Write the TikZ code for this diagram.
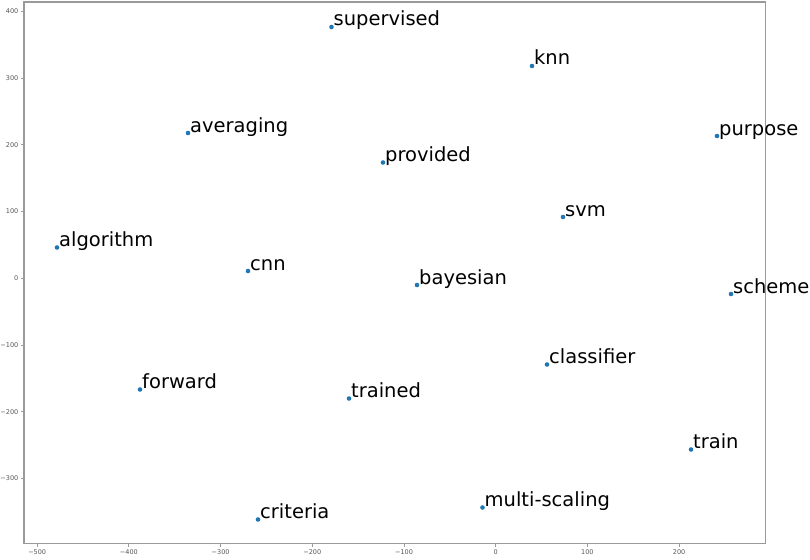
\documentclass[tikz,border=0pt]{standalone}
\usepackage{fontspec}
\setmainfont{DejaVu Sans}
\definecolor{mplblue}{HTML}{1F77B4}
\definecolor{spinegray}{HTML}{9A9A9A}
\definecolor{ticktext}{HTML}{555555}
\tikzset{
  dot/.style={circle, fill=mplblue, draw=none, minimum size=4.6pt, inner sep=0pt},
  wordlbl/.style={anchor=base west, inner sep=0pt, text=black, font=\fontsize{19.5}{20}\selectfont},
  ticklbl/.style={inner sep=0pt, text=ticktext, font=\fontsize{6.5}{7}\selectfont},
  spine/.style={draw=spinegray, line width=1.3pt},
  tickmark/.style={draw=spinegray, line width=0.8pt}
}
\begin{document}
\begin{tikzpicture}[x=1pt, y=-1pt]
\useasboundingbox (0,0) rectangle (810,559);
\fill[white] (0,0) rectangle (810,559);
% axes frame
\coordinate (bl) at (24,543.5);
\coordinate (tr) at (765.5,2);
\draw[spine] (bl) rectangle (tr);
% x ticks
\foreach \v/\lab in {-500/{−500},-400/{−400},-300/{−300},-200/{−200},-100/{−100},0/{0},100/{100},200/{200}}{
  \pgfmathsetmacro{\px}{495.7+0.917*\v}
  \coordinate (xt\v) at (\px,543.5);
  \coordinate (xe\v) at (\px,547);
  \draw[tickmark] (xt\v) -- (xe\v);
  \node[ticklbl, anchor=north] (xl\v) at (\px,549) {\lab};
}
% y ticks
\foreach \v/\lab in {400/{400},300/{300},200/{200},100/{100},0/{0},-100/{−100},-200/{−200},-300/{−300}}{
  \pgfmathsetmacro{\py}{278.3-0.667*\v}
  \coordinate (yt\v) at (24,\py);
  \coordinate (ye\v) at (20.5,\py);
  \draw[tickmark] (yt\v) -- (ye\v);
  \node[ticklbl, anchor=east] (yl\v) at (18.5,\py) {\lab};
}
% points and labels
\foreach \w/\x/\y in {supervised/331.5/27, knn/532/66, averaging/188/133, purpose/717/136,
  provided/383/162.5, svm/563/217, algorithm/57/247.5, cnn/248/271, bayesian/417/285,
  scheme/731/294, classifier/547/364.5, forward/140/389.5, trained/349/398.5,
  train/691/449.5, criteria/258/519.5, multi-scaling/482.5/507.5}{
  \node[dot] (p-\w) at (\x,\y) {};
  \node[wordlbl] (l-\w) at (\x+2,\y-1) {\w};
}
\end{tikzpicture}
\end{document}
